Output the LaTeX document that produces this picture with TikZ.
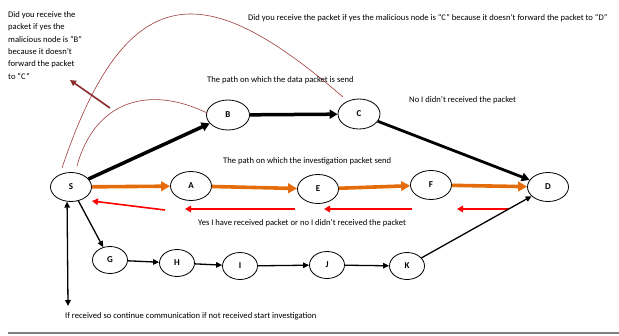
\documentclass[tikz,border=0pt]{standalone}
\usepackage{fontspec}
\setmainfont{Carlito}
\usetikzlibrary{shapes.geometric,arrows.meta}
\definecolor{orng}{HTML}{E46C0A}
\definecolor{dred}{HTML}{A03C3C}
\definecolor{dredarrow}{HTML}{8B2A2A}
\begin{document}
\begin{tikzpicture}[x=1pt,y=-1pt,
  nd/.style={ellipse,draw,line width=0.8pt,minimum width=41pt,minimum height=29pt,inner sep=0pt,font=\fontsize{9}{10}\selectfont\bfseries},
  sn/.style={nd,minimum width=35pt,minimum height=27pt},
  lbl/.style={anchor=west,inner sep=0pt,font=\fontsize{8.6}{10}\selectfont},
  thickarr/.style={draw=black,line width=3.5pt,-{Triangle[length=8pt,width=9pt]}},
  orarr/.style={draw=orng,line width=3.6pt,-{Triangle[length=9pt,width=9.5pt]}},
  redarr/.style={draw=red,line width=1.6pt,-{Triangle[length=6pt,width=6.5pt]}},
  thinarr/.style={draw=black,line width=1.3pt,-{Triangle[length=6pt,width=5.5pt]}},
  curve/.style={draw=dred,line width=0.6pt}]
\useasboundingbox[fill=white] (0,0) rectangle (619,335);

% nodes
\node[nd] (S) at (71,187) {S};
\node[nd] (A) at (191,186) {A};
\node[nd] (E) at (318,189) {E};
\node[nd] (F) at (431,185) {F};
\node[nd] (D) at (548,187) {D};
\node[nd,minimum width=43pt,minimum height=30pt] (B) at (228,115) {B};
\node[nd,minimum width=42pt,minimum height=30pt] (C) at (359,114) {C};
\node[sn] (G) at (110,260) {G};
\node[sn] (H) at (177,263) {H};
\node[sn] (I) at (240,266) {I};
\node[sn] (J) at (327,265) {J};
\node[sn] (K) at (407,266) {K};

% free coordinates
\coordinate (r1s) at (165,210); \coordinate (r1e) at (92,201);
\coordinate (r2s) at (295,209); \coordinate (r2e) at (185,209);
\coordinate (r3s) at (412,209); \coordinate (r3e) at (324,209);
\coordinate (r4s) at (509,209); \coordinate (r4e) at (457,209);
\coordinate (vb) at (68,306);
\coordinate (c1s) at (62,168); \coordinate (c1e) at (343,97);
\coordinate (c2s) at (77,166); \coordinate (c2e) at (207,113);
\coordinate (pa) at (110,108); \coordinate (pb) at (70,80);

% data path
\draw[thickarr] (S) -- (B);
\draw[thickarr] (B) -- (C);
\draw[draw=black,line width=2.8pt,-{Triangle[length=8pt,width=8.5pt]}] (C) -- (D);

% investigation path
\draw[orarr] (S) -- (A);
\draw[orarr] (A) -- (E);
\draw[orarr] (E) -- (F);
\draw[orarr] (F) -- (D);

% replies
\draw[redarr] (r1s) -- (r1e);
\draw[redarr] (r2s) -- (r2e);
\draw[redarr] (r3s) -- (r3e);
\draw[redarr] (r4s) -- (r4e);

% lower path
\draw[thinarr] (S) -- (G);
\draw[thinarr] (G) -- (H);
\draw[thinarr] (H) -- (I);
\draw[thinarr] (I) -- (J);
\draw[thinarr] (J) -- (K);
\draw[thinarr] (K) -- (D);
\draw[draw=black,line width=1.3pt,{Triangle[length=6pt,width=5.5pt]}-{Triangle[length=6pt,width=5.5pt]}] (S.255) -- (vb);

% curves
\draw[curve] (c1s) .. controls (130,-35) and (214,-14) .. (c1e);
\draw[curve] (c2s) .. controls (95,100) and (150,85) .. (c2e);
\draw[draw=dredarrow,line width=1.6pt,-{Triangle[length=6pt,width=6pt]}] (pa) -- (pb);

% texts
\node[anchor=north west,inner sep=0pt,align=left,font=\fontsize{8.6}{12.3}\selectfont] (t1) at (8,11.5)
 {Did you receive the\\packet if yes the\\malicious node is “B”\\because it doesn’t\\forward the packet\\to “C”};
\node[lbl] (t2) at (248,18) {Did you receive the packet if yes the malicious node is “C” because it doesn’t forward the packet to “D”};
\node[lbl] (t3) at (207,80) {The path on which the data packet is send};
\node[lbl] (t4) at (409,100) {No I didn’t received the packet};
\node[lbl] (t5) at (223,161) {The path on which the investigation packet send};
\node[lbl] (t6) at (198,223) {Yes I have received packet or no I didn’t received the packet};
\node[lbl] (t7) at (65,316) {If received so continue communication if not received start investigation};

% bottom rule
\draw[draw=gray,line width=1.2pt] (8,333) -- (619,333);
\end{tikzpicture}
\end{document}
